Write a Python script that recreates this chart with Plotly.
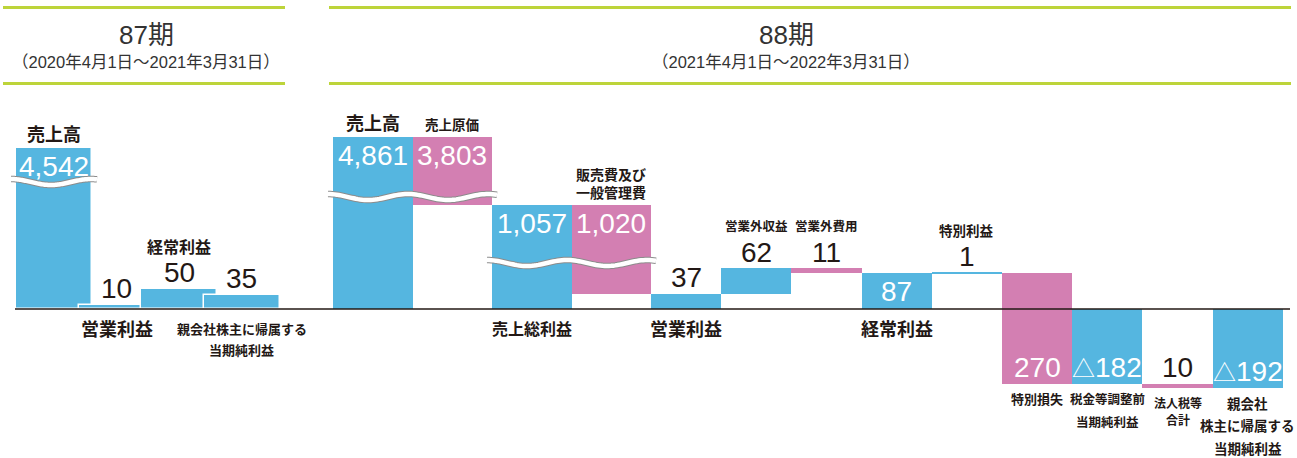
import numpy as np
import plotly.graph_objects as go

# ---------------- data ----------------
p87_title = "87期"
p87_period = "（2020年4月1日～2021年3月31日）"
p87_categories = ["売上高", "営業利益", "経常利益", "親会社株主に帰属する<br>当期純利益"]
p87_values = [4542, 10, 50, 35]

p88_title = "88期"
p88_period = "（2021年4月1日～2022年3月31日）"
p88_categories = ["売上高", "売上原価", "売上総利益", "販売費及び<br>一般管理費", "営業利益",
                  "営業外収益", "営業外費用", "経常利益", "特別利益", "特別損失",
                  "税金等調整前<br>当期純利益", "法人税等<br>合計", "親会社<br>株主に帰属する<br>当期純利益"]
p88_values = [4861, -3803, 1057, -1020, 37, 62, -11, 87, 1, -270, -182, -10, -192]
p88_is_total = [True, False, True, False, True, False, False, True, False, False, True, False, True]

# ---------------- style / layout ----------------
W, H = 1297, 458
AXIS_Y_PX = 309            # screen row of the zero line
BLUE = "#55b6e0"
PINK = "#d37fb2"
GREEN = "#bdd43a"
DARK = "#231815"
NUM_FONT = "Liberation Sans, Arial, Noto Sans CJK JP"
JP_FONT = "Noto Sans CJK JP, sans-serif"

# broken value axis: linear near zero, compressed for large values
PX_PER_UNIT = 0.41
BREAK_V = [0, 110, 1057, 4542, 4861]
BREAK_PX = [0, 110 * PX_PER_UNIT, 104, 161, 172]


def yscale(v):
    v = float(v)
    if v >= 0:
        return float(np.interp(v, BREAK_V, BREAK_PX))
    return v * PX_PER_UNIT


def scr(ypx):
    """screen row -> axis units (for decorations)"""
    return AXIS_Y_PX - ypx


# slot geometry
p87_left0, p87_step, p87_width = 16, 62.5, 76
p88_groups = [(333, 79.5, 4), (651, 70.2, 9)]  # (left, step/width, count)

p87_label_place = ["above", "axis", "above", "axis"]
p87_label_size = [18, 18, 16, 13]
p87_label_gap = [0, 0, 0, 21.5]
p88_label_place = ["above", "above", "axis", "above", "axis", "above", "above", "axis",
                   "above", "under", "under", "under", "under"]
p88_label_size = [18, 13.5, 16, 14, 18, 12.5, 12.5, 18, 13.5, 13, 12.5, 12, 13.5]
p88_label_gap = [0, 0, 0, 18, 0, 0, 0, 0, 0, 0, 22.5, 16.5, 22.5]


# ---------------- compute bars ----------------
def build87():
    bars = []
    for i, v in enumerate(p87_values):
        left = p87_left0 + i * p87_step
        bars.append(dict(x=left + p87_width / 2, w=p87_width, lo=0, hi=v, color=BLUE,
                         text=f"{v:,}", label=p87_categories[i], place=p87_label_place[i],
                         lsize=p87_label_size[i], lgap=p87_label_gap[i]))
    return bars


def build88():
    lefts, widths = [], []
    for left, step, n in p88_groups:
        for k in range(n):
            lefts.append(left + k * step)
            widths.append(step)
    bars = []
    run = 0
    for i, v in enumerate(p88_values):
        if p88_is_total[i]:
            lo, hi = 0, v
            run = v
            color = BLUE
            text = f"{v:,}" if v >= 0 else f"△{abs(v):,}"
        else:
            lo, hi = run, run + v
            run = run + v
            color = BLUE if v > 0 else PINK
            text = f"{abs(v):,}"
        bars.append(dict(x=lefts[i] + widths[i] / 2, w=widths[i], lo=min(lo, hi), hi=max(lo, hi),
                         color=color, text=text, label=p88_categories[i], place=p88_label_place[i],
                         lsize=p88_label_size[i], lgap=p88_label_gap[i]))
    return bars


bars87 = build87()
bars88 = build88()

fig = go.Figure()


def add_bars(bars, line_color, line_width):
    base = [yscale(b["lo"]) for b in bars]
    top = [yscale(b["hi"]) for b in bars]
    fig.add_trace(go.Bar(
        x=[b["x"] for b in bars],
        width=[b["w"] for b in bars],
        base=base,
        y=[t - s for t, s in zip(top, base)],
        marker=dict(color=[b["color"] for b in bars],
                    line=dict(color=line_color, width=line_width)),
        hoverinfo="skip", showlegend=False,
    ))


add_bars(bars87, "white", 1.5)
add_bars(bars88, "rgba(0,0,0,0)", 0)


def txt(x, y, s, size, color, family, bold=False):
    if bold:
        s = f"<b>{s}</b>"
    fig.add_annotation(x=x, y=y, xref="x", yref="y", text=s, showarrow=False,
                       xanchor="center", yanchor="middle",
                       font=dict(size=size, color=color, family=family))


def annotate(bars):
    for b in bars:
        top = yscale(b["hi"])
        bot = yscale(b["lo"])
        height = top - bot
        s = b["text"]
        if s.startswith("△"):
            s = f"<span style='font-size:23px'>△</span>{s[1:]}"
        inside = height >= 30
        if inside:
            if b["lo"] < 0:
                vy = bot + 16
            else:
                vy = top - 18
            txt(b["x"], vy, s, 28, "white", NUM_FONT)
        else:
            vy = top + 16
            txt(b["x"], vy, s, 28, DARK, NUM_FONT)

        lines = b["label"].split("<br>")
        size = b["lsize"]
        gap = b["lgap"] or size * 1.4
        if b["place"] == "above":
            last = (top + size * 0.5 + 6) if inside else (vy + 27)
            for k, ln in enumerate(reversed(lines)):
                txt(b["x"], last + k * gap, ln, size, DARK, JP_FONT, bold=True)
        elif b["place"] == "axis":
            first = -19
            for k, ln in enumerate(lines):
                txt(b["x"], first - k * gap, ln, size, DARK, JP_FONT, bold=True)
        else:  # under the bar
            first = bot - 15
            for k, ln in enumerate(lines):
                txt(b["x"], first - k * gap, ln, size, DARK, JP_FONT, bold=True)


annotate(bars87)
annotate(bars88)


# ---------------- axis break waves ----------------
def wave_path(x0, x1, yc, amp=3.0, period=80.0):
    xs = np.linspace(x0, x1, 80)
    ys = yc + amp * np.cos(2 * np.pi * (xs - x0) / period)
    return "M " + " L ".join(f"{x:.2f},{y:.2f}" for x, y in zip(xs, ys))


breaks = [(bars87, [0], scr(182)), (bars88, [0, 1], scr(197)), (bars88, [2, 3], scr(263))]
for group, idx, yc in breaks:
    x0 = group[idx[0]]["x"] - group[idx[0]]["w"] / 2 - 5
    x1 = group[idx[-1]]["x"] + group[idx[-1]]["w"] / 2 + 5
    p = wave_path(x0, x1, yc)
    fig.add_shape(type="path", path=p, xref="x", yref="y", line=dict(color="#8c8c8c", width=6.5))
    fig.add_shape(type="path", path=p, xref="x", yref="y", line=dict(color="white", width=4.5))

# zero line
fig.add_shape(type="line", x0=15, x1=1290, y0=0, y1=0, xref="x", yref="y",
              line=dict(color=DARK, width=1.5))

# period headers
for (x0, x1, cx, title, period) in [(3, 285, 146, p87_title, p87_period),
                                     (329, 1291, 786, p88_title, p88_period)]:
    for yy in (7.5, 83.5):
        fig.add_shape(type="line", x0=x0, x1=x1, y0=scr(yy), y1=scr(yy), xref="x", yref="y",
                      line=dict(color=GREEN, width=3))
    txt(cx, scr(34.5), title, 26, "#333333", NUM_FONT)
    txt(cx, scr(61.5), period, 16.5, "#333333", NUM_FONT)

fig.update_layout(
    width=W, height=H,
    margin=dict(l=0, r=0, t=0, b=0, pad=0),
    paper_bgcolor="white", plot_bgcolor="white",
    barmode="overlay", bargap=0,
    xaxis=dict(range=[0, W], visible=False, fixedrange=True),
    yaxis=dict(range=[AXIS_Y_PX - H, AXIS_Y_PX], visible=False, fixedrange=True),
    showlegend=False,
)

fig.write_html("out.html", config={"displayModeBar": False},
               post_script="document.body.style.margin='0';document.body.style.overflow='hidden';")
